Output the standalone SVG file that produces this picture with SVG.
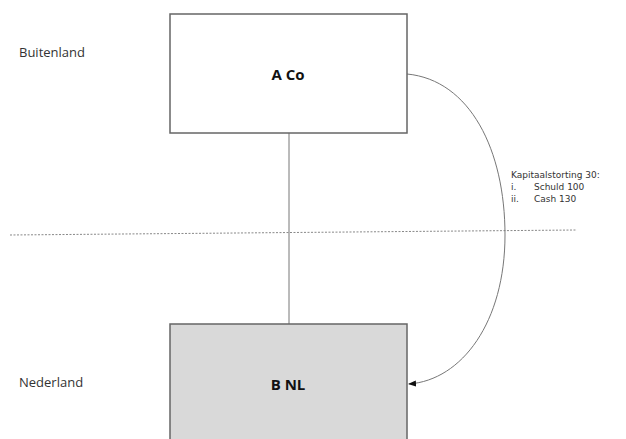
<svg xmlns="http://www.w3.org/2000/svg" width="626" height="439" viewBox="0 0 626 439">
<style>
.box{stroke:#666;stroke-width:1.5}
.lbl{font-family:"Open Sans","Liberation Sans",sans-serif;font-size:15px;font-weight:bold;fill:#111;text-anchor:middle}
.side{font-family:"Open Sans","Liberation Sans",sans-serif;font-size:13px;fill:#333}
.note{font-family:"DejaVu Sans","Liberation Sans",sans-serif;font-size:9px;fill:#333}
.conn{fill:none;stroke:#777;stroke-width:1}
</style>
<defs>
<marker id="ah" markerWidth="8" markerHeight="6" refX="7" refY="3" orient="auto" markerUnits="userSpaceOnUse">
<path d="M0,0 L8,3 L0,6 Z" fill="#111"/>
</marker>
</defs>
<rect width="626" height="439" fill="#fff"/>
<text class="side" x="19" y="57">Buitenland</text>
<text class="side" x="19" y="387">Nederland</text>
<g id="connectors">
<line class="conn" x1="289" y1="133" x2="289" y2="324" stroke="#999"/>
<line x1="10" y1="235" x2="577" y2="230" stroke="#888" stroke-width="1" stroke-dasharray="2,1.5"/>
<path class="conn" d="M407,74 C470,80 505,150 505,235 C505,322 462,380 409,384" marker-end="url(#ah)"/>
</g>
<g id="nodeA">
<rect class="box" x="170" y="14" width="237" height="119" fill="#fff"/>
<text class="lbl" x="288" y="80">A Co</text>
</g>
<g id="nodeB">
<rect class="box" x="170" y="324" width="237" height="130" fill="#d9d9d9"/>
<text class="lbl" x="288" y="390">B NL</text>
</g>
<g id="label">
<text class="note" x="511" y="178">Kapitaalstorting 30:</text>
<text class="note" x="511" y="190">i.</text>
<text class="note" x="534" y="190">Schuld 100</text>
<text class="note" x="511" y="202">ii.</text>
<text class="note" x="534" y="202">Cash 130</text>
</g>
</svg>
